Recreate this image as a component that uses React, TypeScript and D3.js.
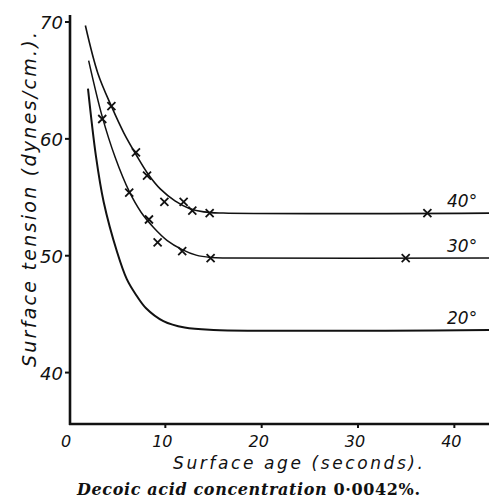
import React, { useEffect, useRef } from "react";
import * as d3 from "d3";

// surface age (s) vs surface tension (dynes/cm) — traced curves
const curve40 = [[1.7, 69.7], [3, 65.6], [4.4, 62.8], [5.7, 60.5], [7, 58.6], [8.2, 57.0], [9.5, 55.7], [11, 54.7], [12.5, 54.05], [14, 53.75], [16, 53.65], [43.7, 53.65]];
const curve30 = [[2.04, 66.7], [3.45, 61.9], [4.8, 58.4], [6.25, 55.5], [7.5, 53.7], [8.8, 52.4], [10.2, 51.3], [11.7, 50.55], [13.2, 50.05], [14.7, 49.85], [16.5, 49.8], [43.7, 49.8]];
const curve20 = [[1.97, 64.3], [2.8, 58.5], [3.6, 54.6], [5, 50.3], [6, 48.0], [7, 46.6], [8, 45.5], [9.8, 44.4], [12, 43.85], [15, 43.65], [43.7, 43.65]];

// measured points (x marks)
const marks40 = [[4.4, 62.8], [6.95, 58.85], [8.1, 56.85], [9.9, 54.6], [11.9, 54.6], [12.8, 53.85], [14.6, 53.65], [37.2, 53.65]];
const marks30 = [[3.45, 61.7], [6.25, 55.4], [8.3, 53.1], [9.2, 51.15], [11.75, 50.4], [14.7, 49.8], [34.95, 49.8]];

const curveLabels = ["40°", "30°", "20°"];
const labelValues = [53.65, 49.8, 43.65];
const xTicks = [0, 10, 20, 30, 40];
const yTicks = [40, 50, 60, 70];

const W = 489;
const H = 503;

const App = () => {
  const svgRef = useRef<SVGSVGElement>(null);

  useEffect(() => {
    const svg = d3.select(svgRef.current);
    svg.selectAll("*").remove();

    const x = d3.scaleLinear().domain([0, 43.7]).range([69, 490]);
    const y = d3.scaleLinear().domain([35.6, 70.6]).range([424, 15]);

    const hand = "'DejaVu Sans', sans-serif";

    // axes
    svg.append("line")
      .attr("x1", 70).attr("x2", 70)
      .attr("y1", y(70.6)).attr("y2", y(35.6) + 1)
      .attr("stroke", "#111").attr("stroke-width", 2.6);
    svg.append("line")
      .attr("x1", 69).attr("x2", W)
      .attr("y1", y(35.6)).attr("y2", y(35.6))
      .attr("stroke", "#111").attr("stroke-width", 2.4);

    svg.selectAll("line.yt")
      .data(yTicks)
      .join("line")
      .attr("class", "yt")
      .attr("x1", 65).attr("x2", 70)
      .attr("y1", (d) => y(d)).attr("y2", (d) => y(d))
      .attr("stroke", "#111").attr("stroke-width", 2);

    svg.selectAll("line.xt")
      .data(xTicks.filter((d) => d > 0))
      .join("line")
      .attr("class", "xt")
      .attr("x1", (d) => x(d)).attr("x2", (d) => x(d))
      .attr("y1", y(35.6)).attr("y2", y(35.6) + 4)
      .attr("stroke", "#111").attr("stroke-width", 2);

    svg.selectAll("text.yl")
      .data(yTicks)
      .join("text")
      .attr("class", "yl")
      .attr("x", 63)
      .attr("y", (d) => y(d) + 7)
      .attr("text-anchor", "end")
      .attr("font-family", hand)
      .attr("font-style", "italic")
      .attr("font-size", 18)
      .attr("fill", "#111")
      .text((d) => d);

    svg.selectAll("text.xl")
      .data(xTicks)
      .join("text")
      .attr("class", "xl")
      .attr("x", (d) => x(d) - 3)
      .attr("y", 447)
      .attr("text-anchor", "middle")
      .attr("font-family", hand)
      .attr("font-style", "italic")
      .attr("font-size", 16)
      .attr("fill", "#111")
      .text((d) => d);

    // curves
    const line = d3.line<number[]>()
      .x((d) => x(d[0]))
      .y((d) => y(d[1]))
      .curve(d3.curveCatmullRom.alpha(0.5));

    [
      { pts: curve40, w: 1.6 },
      { pts: curve30, w: 1.5 },
      { pts: curve20, w: 2 },
    ].forEach((c) => {
      svg.append("path")
        .attr("d", line(c.pts as number[][]))
        .attr("fill", "none")
        .attr("stroke", "#111")
        .attr("stroke-width", c.w);
    });

    // x markers
    const s = 4;
    svg.selectAll("path.mk")
      .data([...marks40, ...marks30])
      .join("path")
      .attr("class", "mk")
      .attr("d", (d) => {
        const cx = x(d[0]);
        const cy = y(d[1]);
        return `M${cx - s},${cy - s}L${cx + s},${cy + s}M${cx - s},${cy + s}L${cx + s},${cy - s}`;
      })
      .attr("stroke", "#111")
      .attr("stroke-width", 1.8)
      .attr("fill", "none");

    // curve labels
    svg.selectAll("text.cl")
      .data(curveLabels)
      .join("text")
      .attr("class", "cl")
      .attr("x", 447)
      .attr("y", (d, i) => y(labelValues[i]) - 6)
      .attr("font-family", hand)
      .attr("font-style", "italic")
      .attr("font-size", 17)
      .attr("fill", "#111")
      .text((d) => d);

    // axis titles
    svg.append("text")
      .attr("x", 173)
      .attr("y", 469)
      .attr("font-family", hand)
      .attr("font-style", "italic")
      .attr("font-size", 17)
      .attr("textLength", 250)
      .attr("lengthAdjust", "spacing")
      .attr("fill", "#111")
      .text("Surface age (seconds).");

    svg.append("text")
      .attr("transform", "translate(36,367) rotate(-90)")
      .attr("font-family", hand)
      .attr("font-style", "italic")
      .attr("font-size", 19)
      .attr("textLength", 335)
      .attr("lengthAdjust", "spacing")
      .attr("fill", "#111")
      .text("Surface tension (dynes/cm.).");

    const title = svg.append("text")
      .attr("x", 77)
      .attr("y", 495)
      .attr("font-family", "'DejaVu Serif', serif")
      .attr("font-weight", "bold")
      .attr("font-size", 16)
      .attr("textLength", 343)
      .attr("lengthAdjust", "spacing")
      .attr("fill", "#111");
    title.append("tspan").attr("font-style", "italic").text("Decoic acid concentration ");
    title.append("tspan").text("0·0042%.");
  }, []);

  return (
    <svg
      ref={svgRef}
      width={W}
      height={H}
      style={{ position: "absolute", left: 0, top: 0, background: "#fff" }}
    />
  );
};

export default App;
